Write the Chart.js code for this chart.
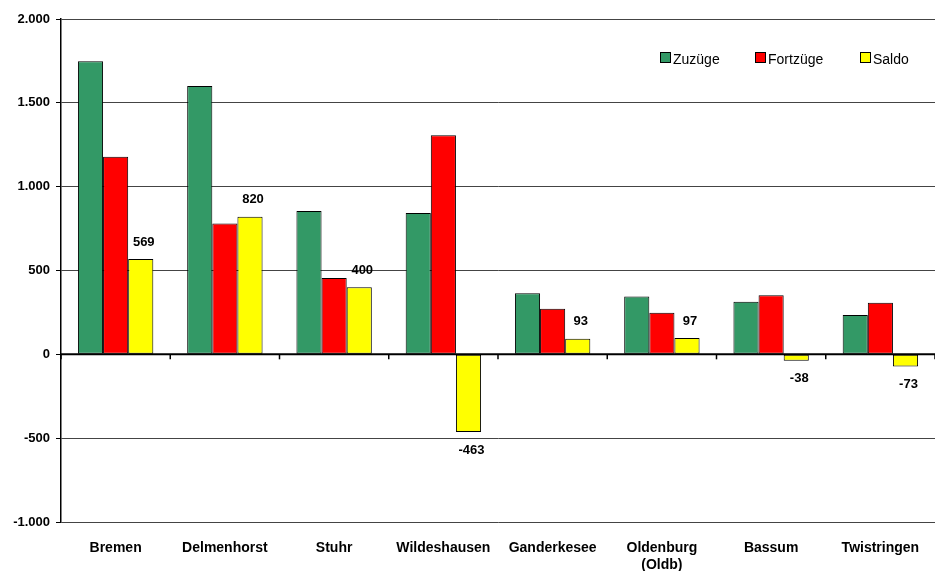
<!DOCTYPE html>
<html>
<head>
<meta charset="utf-8">
<script src="https://cdn.jsdelivr.net/npm/chart.js@4.4.0/dist/chart.umd.min.js"></script>
<style>
    body { margin: 0; background: #fff; }
    #wrap { position: relative; width: 935px; height: 571px; }
    #legend span.item { position: absolute; top: 51px; font: 14px "Liberation Sans", Arial, sans-serif; color: #000; white-space: nowrap; }
    #legend i { display: inline-block; width: 9px; height: 9px; border: 1px solid #000; margin-right: 2px; vertical-align: 1px; }
</style>
</head>
<body>
<div id="wrap">
    <canvas id="chart1" width="935" height="571"></canvas>
    <div id="legend"></div>
</div>
<script>
    var categories = ["Bremen", "Delmenhorst", "Stuhr", "Wildeshausen", "Ganderkesee", ["Oldenburg", "(Oldb)"], "Bassum", "Twistringen"];
    var zuzuege = [1748, 1600, 855, 843, 365, 345, 314, 235];
    var fortzuege = [1179, 780, 455, 1306, 272, 248, 352, 308];
    var saldo = [569, 820, 400, -463, 93, 97, -38, -73];
    var series_names = ["Zuzüge", "Fortzüge", "Saldo"];
    var series_colors = ["#339966", "#ff0000", "#ffff00"];
    var legend_x = [660, 755, 860];

    function format_de(v) {
        var s = Math.abs(v).toString().replace(/\B(?=(\d{3})+(?!\d))/g, ".");
        return (v < 0 ? "-" : "") + s;
    }

    // Saldo labels + little ticks on the zero line
    var extras = {
        id: "extras",
        afterDatasetsDraw: function (chart) {
            var ctx = chart.ctx;
            var x = chart.scales.x, y = chart.scales.y;
            var y0 = y.getPixelForValue(0);
            ctx.save();
            ctx.strokeStyle = "#000";
            ctx.lineWidth = 2;
            ctx.beginPath();
            ctx.moveTo(chart.chartArea.left, y0);
            ctx.lineTo(chart.chartArea.right, y0);
            ctx.stroke();
            ctx.lineWidth = 1.5;
            for (var i = 0; i <= categories.length; i++) {
                var px = x.getPixelForValue(i) - (x.getPixelForValue(1) - x.getPixelForValue(0)) / 2;
                ctx.beginPath();
                ctx.moveTo(px, y0);
                ctx.lineTo(px, y0 + 5);
                ctx.stroke();
            }
            var meta = chart.getDatasetMeta(2);
            ctx.fillStyle = "#000";
            ctx.font = "bold 13px 'Liberation Sans', Arial, sans-serif";
            ctx.textAlign = "center";
            ctx.textBaseline = "middle";
            meta.data.forEach(function (bar, i) {
                var v = saldo[i];
                var ly = v >= 0 ? bar.y - 17 : bar.y + 18;
                ctx.fillText(format_de(v), bar.x + 3, ly);
            });
            ctx.restore();
        }
    };

    var datasets = [zuzuege, fortzuege, saldo].map(function (d, i) {
        return {
            label: series_names[i],
            data: d,
            backgroundColor: series_colors[i],
            borderColor: "#000",
            borderWidth: 1,
            borderSkipped: false
        };
    });

    new Chart(document.getElementById("chart1"), {
        type: "bar",
        data: { labels: categories, datasets: datasets },
        options: {
            responsive: false,
            animation: false,
            layout: { padding: { top: 19, right: 0, left: 0, bottom: 0 } },
            plugins: { legend: { display: false }, tooltip: { enabled: false } },
            datasets: { bar: { categoryPercentage: 0.69, barPercentage: 1 } },
            scales: {
                x: {
                    grid: { display: false },
                    border: { display: false },
                    ticks: {
                        color: "#000",
                        padding: 10,
                        maxRotation: 0,
                        font: { family: "'Liberation Sans', Arial, sans-serif", size: 14, weight: "bold", lineHeight: 1.2 }
                    },
                    afterFit: function (s) { s.height = 49; }
                },
                y: {
                    min: -1000,
                    max: 2000,
                    ticks: {
                        stepSize: 500,
                        color: "#000",
                        padding: 6,
                        font: { family: "'Liberation Sans', Arial, sans-serif", size: 13, weight: "bold" },
                        callback: function (v) { return format_de(v); }
                    },
                    grid: {
                        color: "#444",
                        lineWidth: 1,
                        tickLength: 5,
                        tickColor: "#000"
                    },
                    border: { color: "#000", width: 1.5 },
                    afterFit: function (s) { s.width = 61; }
                }
            }
        },
        plugins: [extras]
    });

    var legend = document.getElementById("legend");
    series_names.forEach(function (n, i) {
        var span = document.createElement("span");
        span.className = "item";
        span.style.left = legend_x[i] + "px";
        span.innerHTML = '<i style="background:' + series_colors[i] + '"></i>' + n;
        legend.appendChild(span);
    });
</script>
</body>
</html>
